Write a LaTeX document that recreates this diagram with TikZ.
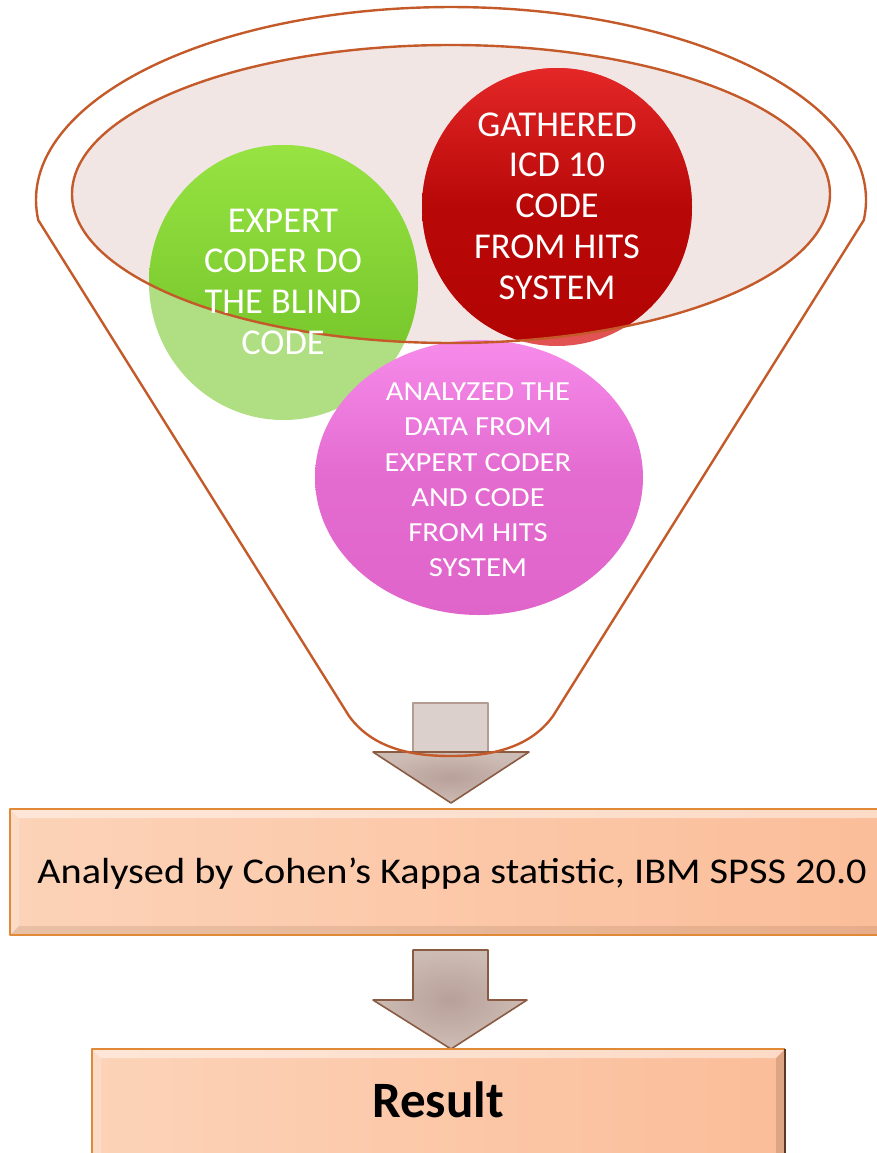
\documentclass[tikz,border=0pt]{standalone}
\usepackage{fontspec}
\setmainfont{Carlito}
\newfontfamily\widefont[FakeStretch=1.11]{Carlito}

\definecolor{rim}{HTML}{C45A2A}
\definecolor{bowl}{HTML}{F2E6E4}
\definecolor{greenlite}{HTML}{AFDE83}
\definecolor{greenhi}{HTML}{96E342}
\definecolor{greendk}{HTML}{6DBD24}
\definecolor{redlite}{HTML}{E25252}
\definecolor{redhi}{HTML}{E42727}
\definecolor{reddk}{HTML}{B30404}
\definecolor{maghi}{HTML}{F68BEA}
\definecolor{magdk}{HTML}{E065CB}
\definecolor{peachL}{HTML}{FCD3B8}
\definecolor{peachR}{HTML}{FBBD99}
\definecolor{peachline}{HTML}{E08A38}
\definecolor{peachdark}{HTML}{5A3A22}
\definecolor{shaftfill}{HTML}{DCD0CC}
\definecolor{shaftline}{HTML}{B59C93}
\definecolor{headin}{HTML}{B8A099}
\definecolor{headout}{HTML}{CDBCB5}
\definecolor{headline}{HTML}{8A5B43}

\tikzset{
  rimline/.style={draw=rim, line width=2.4pt},
  circletext/.style={text=white, align=center, inner sep=0pt},
  bigcircle/.style={circletext, font=\fontsize{36.4}{40.7}\selectfont},
  smallcircle/.style={circletext, font=\widefont\fontsize{27.6}{35.2}\selectfont},
  boxtext/.style={text=black, inner sep=0pt, anchor=base},
  blockarrow/.style={draw=headline, line width=1.6pt, inner color=headin, outer color=headout},
}

\newcommand{\bevelbox}[4]{%
  % #1,#2 = top-left corner, #3,#4 = bottom-right corner
  \fill[left color=peachL, right color=peachR] (#1,#2) rectangle (#3,#4);
  \fill[white, opacity=0.45] (#1,#2) -- (#3,#2) -- ({#3-9},{#2+9}) -- ({#1+9},{#2+9}) -- cycle;
  \fill[white, opacity=0.2] (#1,#2) -- ({#1+9},{#2+9}) -- ({#1+9},{#4-9}) -- (#1,#4) -- cycle;
  \fill[peachdark, opacity=0.12] (#1,#4) -- ({#1+9},{#4-9}) -- ({#3-9},{#4-9}) -- (#3,#4) -- cycle;
  \fill[peachdark, opacity=0.18] (#3,#2) -- ({#3-9},{#2+9}) -- ({#3-9},{#4-9}) -- (#3,#4) -- cycle;
  \draw[peachline, line width=1.8pt] (#3,#2) -- (#1,#2) -- (#1,#4) -- (#3,#4);
  \draw[peachdark, line width=1.8pt] (#3,#2) -- (#3,#4);
}

\begin{document}
\begin{tikzpicture}[x=1pt, y=-1pt, line join=round]
\useasboundingbox (0,0) rectangle (877,1153);
\clip (0,0) rectangle (877,1153);

% bowl of the funnel
\fill[bowl] (451,194) ellipse [x radius=379, y radius=149];

% the two upper circles: pale where they leave the bowl, full colour inside it
\fill[greenlite] (283.5,282.5) ellipse [x radius=134.5, y radius=137.5];
\fill[redlite] (557,207) ellipse [x radius=135, y radius=139];
\begin{scope}
  \clip (451,194) ellipse [x radius=379, y radius=149];
  \shade[top color=greenhi, bottom color=greendk] (283.5,282.5) ellipse [x radius=134.5, y radius=137.5];
  \shade[top color=redhi, bottom color=reddk, middle color=reddk!90!redhi] (557,207) ellipse [x radius=135, y radius=139];
\end{scope}

% lower circle
\shade[top color=maghi, bottom color=magdk, middle color=magdk!85!maghi] (479,477.5) ellipse [x radius=164, y radius=137.5];

% first block arrow, leaving the funnel
\fill[shaftfill] (413,703) rectangle (488,752);
\draw[shaftline, line width=1.6pt] (413,752) -- (413,703) -- (488,703) -- (488,752);
\path[blockarrow] (373,752) -- (529,752) -- (451,803) -- cycle;

% funnel outline
\path[rimline] (38.3,220.2) arc [start angle=174, end angle=366, x radius=415, y radius=193]
  -- (553,716) .. controls (527,752) and (482,756) .. (451,756)
  .. controls (420,756) and (375,752) .. (349,716) -- cycle;
\path[rimline] (451,194) ellipse [x radius=379, y radius=149];

% circle labels
\node[bigcircle] (expert) at (283,281.5) {EXPERT\\CODER DO\\THE BLIND\\CODE};
\node[bigcircle] (gathered) at (557,206) {GATHERED\\ICD 10\\CODE\\FROM HITS\\SYSTEM};
\node[smallcircle] (analyzed) at (478,480) {ANALYZED THE\\DATA FROM\\EXPERT CODER\\AND CODE\\FROM HITS\\SYSTEM};

% analysis box
\bevelbox{10}{809}{900}{935}
\node[boxtext, font=\widefont\fontsize{36.3}{40}\selectfont] (kappa) at (452,883) {Analysed by Cohen’s Kappa statistic, IBM SPSS 20.0};

% second block arrow
\path[blockarrow] (413,950) -- (488,950) -- (488,1000) -- (527,1000) -- (451,1049)
  -- (373,1000) -- (413,1000) -- cycle;

% result box
\bevelbox{92}{1049}{785}{1175}
\node[boxtext, font=\bfseries\fontsize{51}{56}\selectfont] (result) at (438,1117) {Result};
\end{tikzpicture}
\end{document}
